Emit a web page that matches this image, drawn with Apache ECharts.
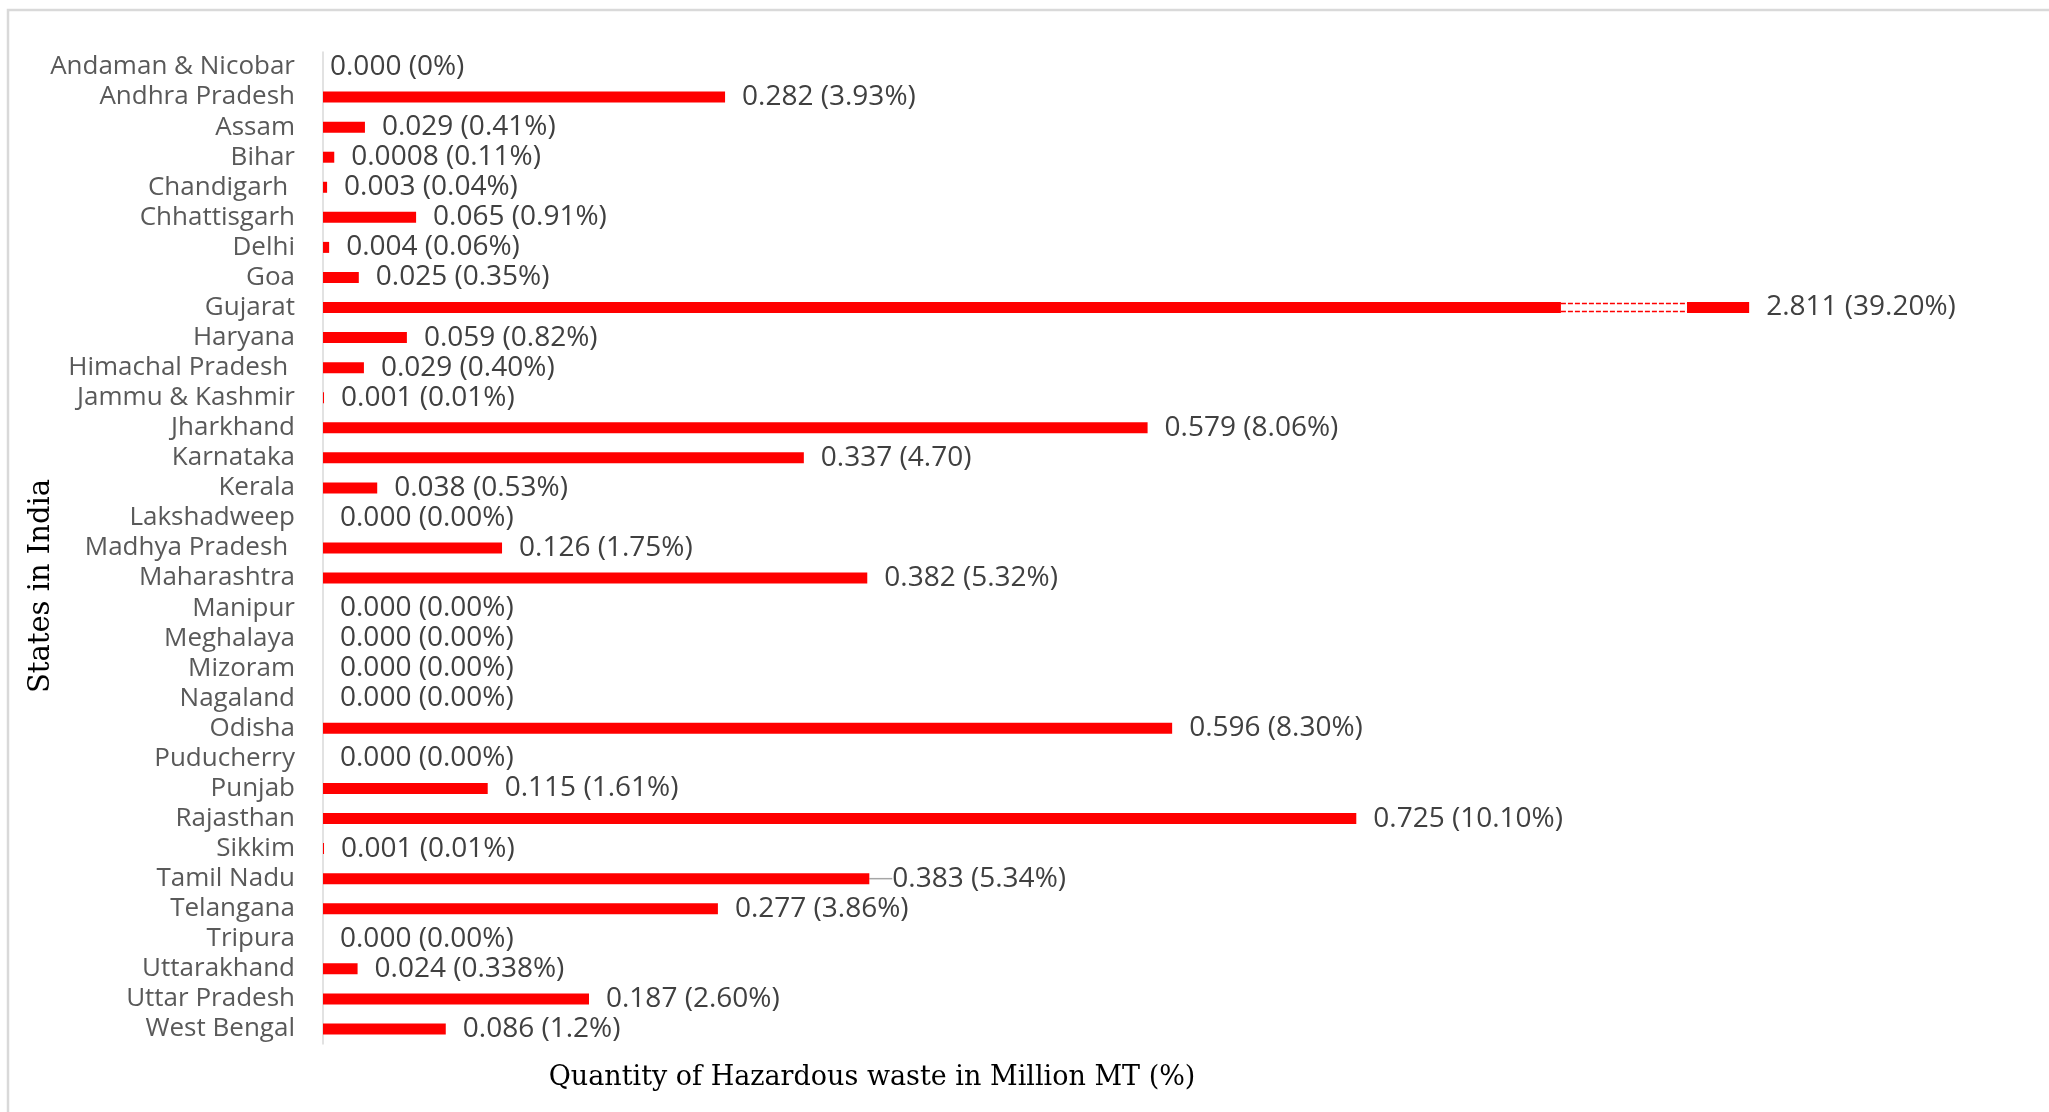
<!DOCTYPE html>
<html>
<head>
<meta charset="utf-8">
<script src="https://cdn.jsdelivr.net/npm/echarts@6/dist/echarts.min.js"></script>
<style>
  html, body { margin: 0; padding: 0; background: #fff; }
  #chart { width: 2049px; height: 1112px; }
</style>
</head>
<body>
<div id="chart"></div>
<script>
// states, top to bottom
const states = [
  'Andaman & Nicobar', 'Andhra Pradesh', 'Assam', 'Bihar', 'Chandigarh ', 'Chhattisgarh',
  'Delhi', 'Goa', 'Gujarat', 'Haryana', 'Himachal Pradesh ', 'Jammu & Kashmir',
  'Jharkhand', 'Karnataka', 'Kerala', 'Lakshadweep', 'Madhya Pradesh ', 'Maharashtra',
  'Manipur', 'Meghalaya', 'Mizoram', 'Nagaland', 'Odisha', 'Puducherry',
  'Punjab', 'Rajasthan', 'Sikkim', 'Tamil Nadu', 'Telangana', 'Tripura',
  'Uttarakhand', 'Uttar Pradesh', 'West Bengal'
];
// million MT, as printed
const quantities = [
  '0.000', '0.282', '0.029', '0.0008', '0.003', '0.065',
  '0.004', '0.025', '2.811', '0.059', '0.029', '0.001',
  '0.579', '0.337', '0.038', '0.000', '0.126', '0.382',
  '0.000', '0.000', '0.000', '0.000', '0.596', '0.000',
  '0.115', '0.725', '0.001', '0.383', '0.277', '0.000',
  '0.024', '0.187', '0.086'
];
// share text, as printed
const shareLabels = [
  '0%', '3.93%', '0.41%', '0.11%', '0.04%', '0.91%',
  '0.06%', '0.35%', '39.20%', '0.82%', '0.40%', '0.01%',
  '8.06%', '4.70', '0.53%', '0.00%', '1.75%', '5.32%',
  '0.00%', '0.00%', '0.00%', '0.00%', '8.30%', '0.00%',
  '1.61%', '10.10%', '0.01%', '5.34%', '3.86%', '0.00%',
  '0.338%', '2.60%', '1.2%'
];
// bar length = share in %
const shares = [
  0, 3.93, 0.41, 0.11, 0.04, 0.91,
  0.06, 0.35, 39.20, 0.82, 0.40, 0.01,
  8.06, 4.70, 0.53, 0, 1.75, 5.32,
  0, 0, 0, 0, 8.30, 0,
  1.61, 10.10, 0.01, 5.34, 3.86, 0,
  0.338, 2.60, 1.2
];
// broken part of the x axis (share %)
const axisBreak = [12.1, 38.6];

const chart = echarts.init(document.getElementById('chart'));
const tamilIdx = states.indexOf('Tamil Nadu');
const gujaratIdx = states.indexOf('Gujarat');

const option = {
  animation: false,
  backgroundColor: '#fff',
  grid: { left: 323, top: 52, bottom: 68, right: 218, outerBoundsMode: 'none' },
  xAxis: {
    type: 'value',
    min: 0,
    max: 40,
    axisLine: { show: false },
    axisTick: { show: false },
    axisLabel: { show: false },
    splitLine: { show: false },
    breaks: [{ start: axisBreak[0], end: axisBreak[1], gap: 1.24 }],
    breakArea: { show: false }
  },
  yAxis: {
    type: 'category',
    data: states,
    inverse: true,
    axisLine: { lineStyle: { color: '#d9d9d9', width: 1.5 } },
    axisTick: { show: false },
    axisLabel: { interval: 0, color: '#595959', fontSize: 26, fontFamily: 'Open Sans', margin: 28 }
  },
  series: [
    {
      type: 'bar',
      barWidth: 11,
      itemStyle: { color: '#ff0000' },
      data: shares.map((v, i) => {
        const item = { value: v };
        if (i === 0) item.label = { distance: 7 };
        if (i === tamilIdx) item.labelLine = { show: true, lineStyle: { color: '#a6a6a6', width: 1.5 } };
        return item;
      }),
      label: {
        show: true,
        position: 'right',
        distance: 17,
        color: '#404040',
        fontSize: 28,
        fontFamily: 'Open Sans',
        formatter: p => quantities[p.dataIndex] + ' (' + shareLabels[p.dataIndex] + ')'
      },
      labelLayout: p => (p.dataIndex === tamilIdx ? { dx: 6 } : {})
    },
    {
      // dashed break marker drawn inside the Gujarat bar
      type: 'custom',
      z: 5,
      silent: true,
      data: [[axisBreak[0], axisBreak[1], gujaratIdx]],
      encode: { x: [0, 1], y: 2 },
      renderItem(params, api) {
        const from = api.coord([api.value(0), api.value(2)]);
        const to = api.coord([api.value(1), api.value(2)]);
        const h = 11;
        const top = from[1] - h / 2;
        const bottom = from[1] + h / 2;
        const dash = { stroke: '#ff0000', lineWidth: 1.5, lineDash: [5, 2] };
        return {
          type: 'group',
          children: [
            { type: 'rect', shape: { x: from[0], y: top - 1, width: to[0] - from[0], height: h + 2 }, style: { fill: '#fff' } },
            { type: 'line', shape: { x1: from[0], y1: top + 1.5, x2: to[0], y2: top + 1.5 }, style: dash },
            { type: 'line', shape: { x1: from[0], y1: bottom - 1.5, x2: to[0], y2: bottom - 1.5 }, style: dash },
            { type: 'line', shape: { x1: to[0], y1: top, x2: to[0], y2: bottom }, style: { stroke: '#ff0000', lineWidth: 1.5 } }
          ]
        };
      }
    }
  ],
  graphic: [
    {
      type: 'rect',
      shape: { x: 8, y: 10, width: 2200, height: 1200 },
      style: { fill: 'none', stroke: '#d9d9d9', lineWidth: 2.5 },
      z: -1
    },
    {
      type: 'text',
      x: 872,
      y: 1078,
      style: {
        text: 'Quantity of Hazardous waste in Million MT (%)',
        font: '27px "DejaVu Serif"',
        fill: '#000',
        align: 'center',
        verticalAlign: 'middle'
      }
    },
    {
      type: 'text',
      x: 41,
      y: 586,
      rotation: Math.PI / 2,
      style: {
        text: 'States in India',
        font: '29px "DejaVu Serif"',
        fill: '#000',
        align: 'center',
        verticalAlign: 'middle'
      }
    }
  ]
};

chart.setOption(option);
</script>
</body>
</html>
